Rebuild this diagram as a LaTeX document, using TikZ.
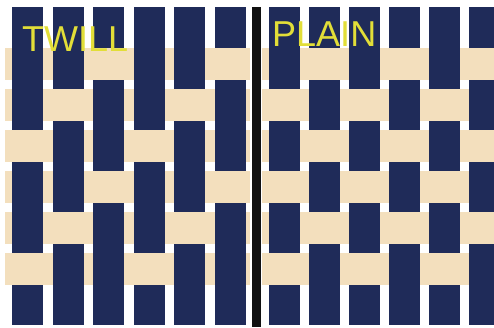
\documentclass[tikz,border=0pt]{standalone}
\usepackage{fontspec}
\setmainfont{Liberation Sans}
\definecolor{navy}{HTML}{1F2B59}
\definecolor{tanband}{HTML}{F3DFBD}
\definecolor{lbl}{HTML}{E2DE38}
\definecolor{divider}{HTML}{111111}
\begin{document}
\begin{tikzpicture}[x=1pt,y=-1pt,
  warp/.style={fill=navy},
  weft/.style={fill=tanband},
  lab/.style={text=lbl, font=\fontsize{36}{36}\selectfont, inner sep=0pt, anchor=base west}]
\useasboundingbox (0,0) rectangle (494,327);
\fill[white] (0,0) rectangle (494,327);
% ---------- TWILL ----------
\foreach \r in {0,...,5} \fill[weft] (5,{48+41*\r}) rectangle (250,{80+41*\r});
\foreach \c in {0,...,5} {
  \fill[warp] ({12+40.5*\c},7) rectangle ({43+40.5*\c},325);
  \foreach \r in {0,...,5} {
    \pgfmathtruncatemacro\mm{mod(\r+\c,3)}
    \ifnum\mm=2
      \fill[weft] ({11.5+40.5*\c},{48+41*\r}) rectangle ({43.5+40.5*\c},{80+41*\r});
    \fi
  }
}
% ---------- PLAIN ----------
\foreach \r in {0,...,5} \fill[weft] (262,{48+41*\r}) rectangle (494,{80+41*\r});
\foreach \c in {0,...,5} {
  \fill[warp] ({269+40*\c},7) rectangle ({300+40*\c},325);
  \foreach \r in {0,...,5} {
    \pgfmathtruncatemacro\mm{mod(\r+\c,2)}
    \ifnum\mm=1
      \fill[weft] ({268.5+40*\c},{48+41*\r}) rectangle ({300.5+40*\c},{80+41*\r});
    \fi
  }
}
% divider
\fill[divider] (252,7) rectangle (261,327);
% labels
\node[lab] (twill) at (22,51) {TWILL};
\node[lab] (plain) at (272,46) {PLAIN};
\end{tikzpicture}
\end{document}
